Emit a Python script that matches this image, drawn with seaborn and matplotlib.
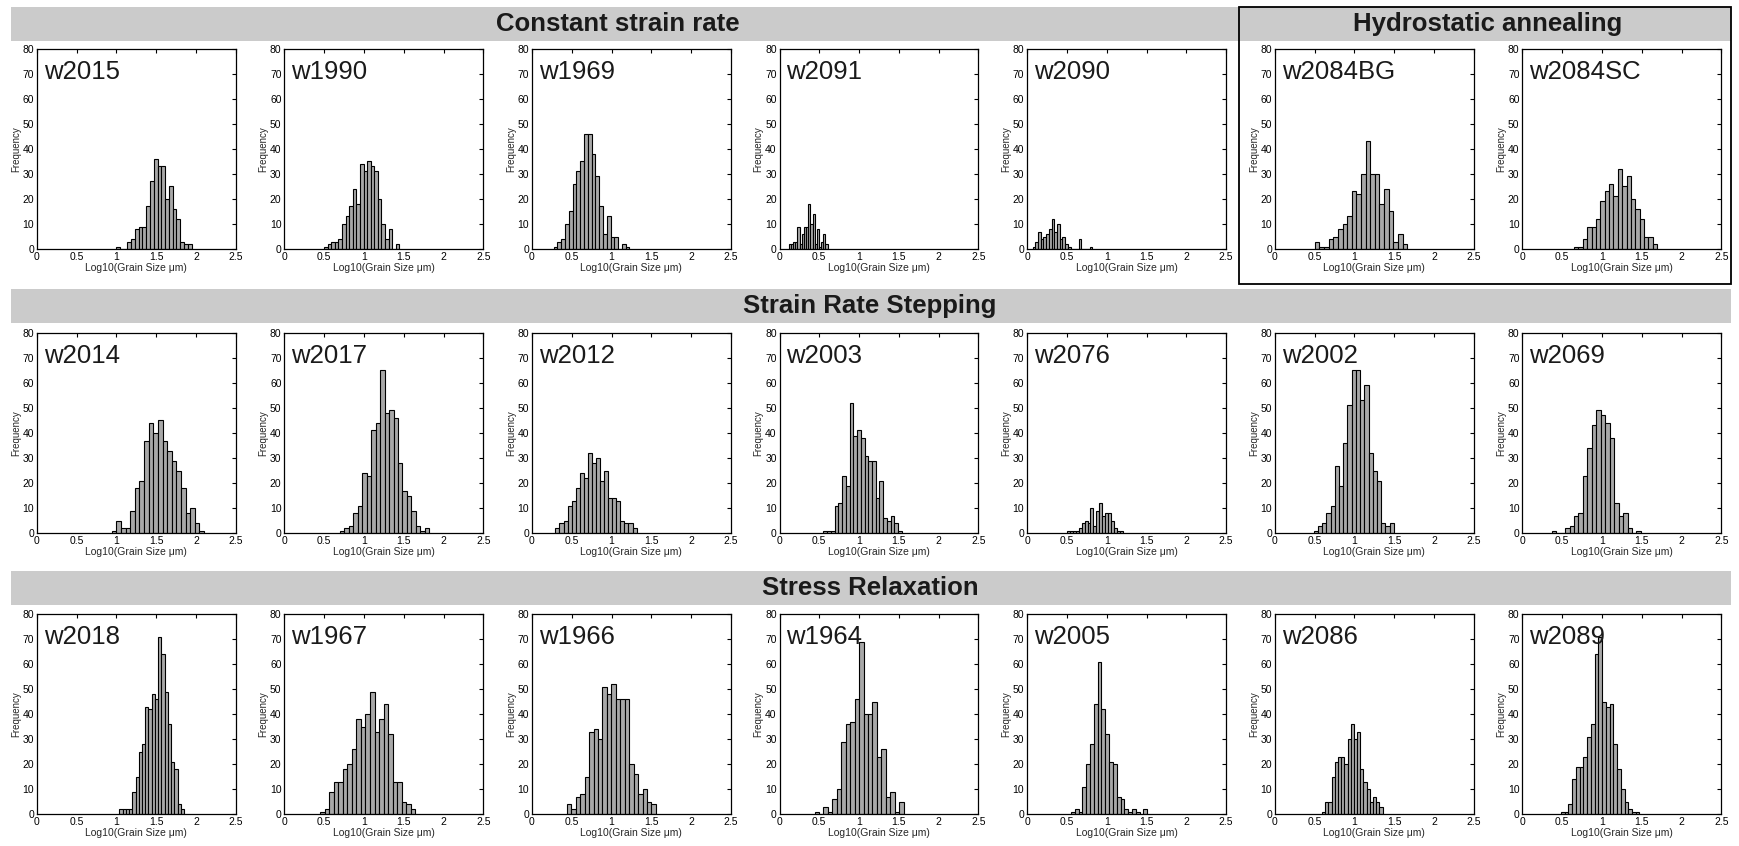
import numpy as np
import pandas as pd
import matplotlib
matplotlib.use("Agg")
import matplotlib.pyplot as plt
from matplotlib.patches import Rectangle
import seaborn as sns

# group titles
row_titles = ["Constant strain rate", "Strain Rate Stepping", "Stress Relaxation"]
box_title = "Hydrostatic annealing"

# sample names per row
row1_names = ["w2015", "w1990", "w1969", "w2091", "w2090", "w2084BG", "w2084SC"]
row2_names = ["w2014", "w2017", "w2012", "w2003", "w2076", "w2002", "w2069"]
row3_names = ["w2018", "w1967", "w1966", "w1964", "w2005", "w2086", "w2089"]

# left edge of first bin and bin width (log10 units) per sample
row1_start = [0.994, 0.50, 0.274, 0.118, 0.07, 0.504, 0.65]
row1_width = [0.0476, 0.045, 0.0476, 0.027, 0.034, 0.058, 0.055]
row2_start = [0.943, 0.70, 0.295, 0.551, 0.50, 0.49, 0.37]
row2_width = [0.058, 0.056, 0.051, 0.047, 0.037, 0.053, 0.056]
row3_start = [1.04, 0.45, 0.438, 0.44, 0.55, 0.595, 0.485]
row3_width = [0.0405, 0.057, 0.056, 0.056, 0.048, 0.04, 0.047]

# counts per bin
w2015 = [1, 0, 0, 3, 4, 8, 9, 9, 17, 27, 36, 33, 33, 20, 25, 16, 12, 3, 2, 2]
w1990 = [1, 2, 3, 3, 4, 10, 13, 17, 24, 18, 34, 31, 35, 33, 31, 20, 10, 4, 8, 0, 2]
w1969 = [1, 3, 4, 10, 15, 26, 31, 35, 46, 46, 38, 29, 17, 6, 13, 5, 5, 0, 2, 1]
w2091 = [2, 2, 3, 3, 9, 2, 6, 9, 9, 18, 10, 14, 2, 8, 1, 3, 6, 2]
w2090 = [1, 3, 7, 4, 5, 6, 8, 12, 7, 10, 4, 5, 2, 1, 0, 0, 0, 4, 0, 0, 0, 1]
w2084BG = [3, 1, 1, 4, 5, 8, 10, 13, 23, 22, 30, 43, 30, 30, 18, 24, 15, 3, 6, 2]
w2084SC = [1, 1, 4, 9, 9, 12, 19, 23, 26, 21, 32, 25, 29, 20, 16, 12, 5, 5, 2]

w2014 = [1, 5, 2, 2, 9, 18, 21, 37, 44, 40, 45, 37, 33, 29, 25, 18, 8, 10, 4, 1]
w2017 = [1, 2, 3, 8, 11, 24, 23, 41, 44, 65, 48, 49, 46, 28, 17, 15, 9, 3, 1, 2]
w2012 = [2, 4, 5, 11, 13, 18, 24, 22, 32, 28, 30, 21, 25, 14, 14, 13, 5, 4, 4, 2]
w2003 = [1, 1, 1, 11, 12, 23, 19, 52, 39, 41, 38, 31, 29, 29, 14, 21, 6, 5, 7, 4, 1]
w2076 = [1, 1, 1, 1, 2, 4, 5, 4, 10, 3, 9, 12, 7, 8, 8, 5, 2, 1, 1]
w2002 = [1, 3, 4, 8, 11, 27, 19, 36, 51, 65, 65, 53, 59, 32, 25, 21, 4, 3, 4]
w2069 = [1, 0, 0, 2, 3, 7, 8, 23, 34, 43, 49, 47, 44, 38, 12, 7, 8, 2, 0, 1]

w2018 = [2, 2, 2, 2, 9, 15, 25, 28, 43, 42, 48, 46, 71, 64, 49, 36, 21, 18, 4, 2]
w1967 = [1, 2, 9, 13, 13, 18, 20, 26, 38, 35, 40, 49, 33, 38, 44, 32, 13, 13, 5, 4, 2]
w1966 = [4, 2, 7, 8, 15, 33, 34, 30, 51, 48, 52, 46, 46, 46, 20, 16, 8, 10, 5, 4]
w1964 = [1, 0, 3, 1, 6, 10, 29, 36, 37, 46, 69, 40, 40, 45, 23, 26, 7, 9, 1, 5]
w2005 = [1, 2, 1, 11, 20, 28, 44, 61, 42, 32, 21, 20, 7, 6, 2, 1, 2, 1, 0, 2]
w2086 = [1, 5, 5, 15, 21, 23, 23, 20, 30, 36, 30, 33, 18, 13, 10, 5, 7, 5, 3]
w2089 = [1, 1, 4, 14, 19, 19, 23, 31, 36, 64, 71, 45, 43, 44, 28, 18, 10, 5, 2, 1, 1]

rows = [
    (row1_names, row1_start, row1_width, [w2015, w1990, w1969, w2091, w2090, w2084BG, w2084SC]),
    (row2_names, row2_start, row2_width, [w2014, w2017, w2012, w2003, w2076, w2002, w2069]),
    (row3_names, row3_start, row3_width, [w2018, w1967, w1966, w1964, w2005, w2086, w2089]),
]

sns.set_theme(style="white")
plt.rcParams["font.family"] = ["Liberation Sans", "DejaVu Sans"]

W, H = 1739, 846
fig = plt.figure(figsize=(W / 100, H / 100), dpi=100)

band_color = "#cbcbcb"
band_tops = [7, 289, 571]
band_h = 34
axes_tops = [49, 333, 614]
ax_w, ax_h = 199, 200

# gray title bands
for r, title in enumerate(row_titles):
    y0 = 1 - (band_tops[r] + band_h) / H
    fig.add_artist(Rectangle((11 / W, y0), (1731 - 11) / W, band_h / H,
                             transform=fig.transFigure, facecolor=band_color,
                             edgecolor="none", zorder=0))
    cx = 618 if r == 0 else 870
    fig.text(cx / W, y0 + band_h / H / 2, title, ha="center", va="center",
             fontsize=18.5, fontweight="bold", color="#1a1a1a")

# box around the hydrostatic annealing samples
fig.add_artist(Rectangle((1239 / W, 1 - 284 / H), (1731 - 1239) / W, (284 - 7) / H,
                         transform=fig.transFigure, facecolor="none",
                         edgecolor="black", linewidth=1.3, zorder=5))
fig.text(1488 / W, 1 - (7 + band_h / 2) / H, box_title, ha="center", va="center",
         fontsize=18.5, fontweight="bold", color="#1a1a1a")

for r, (names, starts, widths, counts_list) in enumerate(rows):
    for i, (name, s, w, counts) in enumerate(zip(names, starts, widths, counts_list)):
        left = 36.7 + 247.6 * i
        ax = fig.add_axes([left / W, 1 - (axes_tops[r] + ax_h) / H, ax_w / W, ax_h / H])
        n = len(counts)
        edges = s + w * np.arange(n + 1)
        df = pd.DataFrame({"size": (edges[:-1] + edges[1:]) / 2, "count": counts})
        sns.histplot(data=df, x="size", weights="count", bins=edges.tolist(), ax=ax,
                     color="#a8a8a8", edgecolor="black", linewidth=0.8, alpha=1)
        ax.set_xlim(0, 2.5)
        ax.set_ylim(0, 80)
        ax.set_xticks([0, 0.5, 1, 1.5, 2, 2.5])
        ax.set_xticklabels(["0", "0.5", "1", "1.5", "2", "2.5"])
        ax.set_yticks(range(0, 81, 10))
        ax.tick_params(direction="in", top=True, right=True, length=3, width=0.8,
                       labelsize=7.5, pad=2, colors="black")
        for sp in ax.spines.values():
            sp.set_color("black")
            sp.set_linewidth(0.9)
        ax.set_xlabel("Log10(Grain Size μm)", fontsize=7.5, labelpad=1)
        ax.set_ylabel("Frequency", fontsize=7, labelpad=1)
        ax.text(0.035, 0.945, name, transform=ax.transAxes, ha="left", va="top",
                fontsize=18.5, color="#1a1a1a")

fig.savefig("out.png", dpi=100, facecolor="white")
